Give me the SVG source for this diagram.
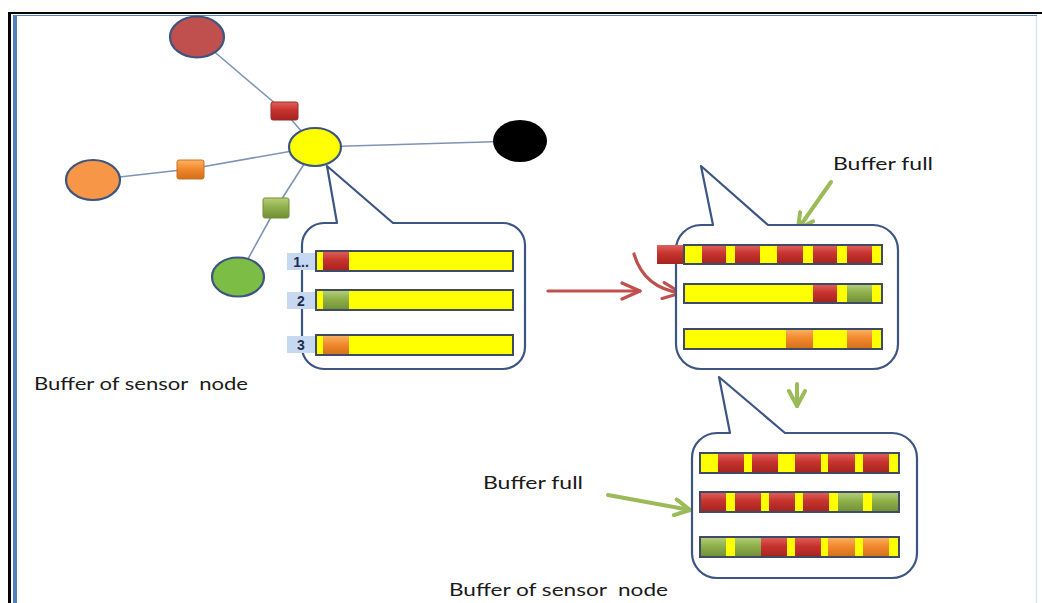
<svg xmlns="http://www.w3.org/2000/svg" width="1042" height="603" viewBox="0 0 1042 603">
<defs>
<style>
.txt{font-family:Lato,"Liberation Sans",sans-serif;font-size:17px;fill:#1a1a1a;white-space:pre}
.lbl{font-family:"Liberation Sans",sans-serif;font-size:14px;font-weight:bold;fill:#1f2d4d;text-anchor:middle}
.lblbox{fill:#c6d9f1}
.link{stroke:#7f93b5;stroke-width:1.6;fill:none}
.node{stroke:#3b5580;stroke-width:2.2}
.callout{fill:#fff;stroke:#3d5583;stroke-width:2.2;stroke-linejoin:round}
.bar{fill:#ffff00}
.barline{fill:none;stroke:#3e4a66;stroke-width:2}
.r{fill:url(#gRed)}
.g{fill:url(#gGreen)}
.o{fill:url(#gOrange)}
.redarr{stroke:#c0504d;stroke-width:3.2;fill:none;stroke-linecap:round}
.grnarr{stroke:#9bbb59;stroke-width:4;fill:none;stroke-linecap:round}
</style>
<linearGradient id="gRed" x1="0" y1="0" x2="0" y2="1">
<stop offset="0" stop-color="#e0625c"/><stop offset="0.45" stop-color="#c7332e"/><stop offset="1" stop-color="#a5231f"/>
</linearGradient>
<linearGradient id="gGreen" x1="0" y1="0" x2="0" y2="1">
<stop offset="0" stop-color="#b6d17a"/><stop offset="0.45" stop-color="#8fb04c"/><stop offset="1" stop-color="#6f8f35"/>
</linearGradient>
<linearGradient id="gOrange" x1="0" y1="0" x2="0" y2="1">
<stop offset="0" stop-color="#fab466"/><stop offset="0.45" stop-color="#f28a2e"/><stop offset="1" stop-color="#d26f19"/>
</linearGradient>
<marker id="mRed" viewBox="0 0 22 20" refX="20" refY="10" markerWidth="22" markerHeight="20" markerUnits="userSpaceOnUse" orient="auto">
<path d="M2,2 L20,10 L2,18" fill="none" stroke="#c0504d" stroke-width="3.2" stroke-linecap="round" stroke-linejoin="round"/>
</marker>
<marker id="mGreen" viewBox="0 0 20 20" refX="18" refY="10" markerWidth="20" markerHeight="20" markerUnits="userSpaceOnUse" orient="auto">
<path d="M3,2 L18,10 L3,18" fill="none" stroke="#9bbb59" stroke-width="4" stroke-linecap="round" stroke-linejoin="round"/>
</marker>
</defs>

<rect x="0" y="0" width="1042" height="603" fill="#fff"/>
<g id="frame">
<path d="M9,13 H1042" stroke="#000" stroke-width="2"/>
<path d="M9.5,12 V603" stroke="#000" stroke-width="3"/>
<rect x="13" y="15" width="4" height="588" fill="#4f81bd"/>
<path d="M13,15.5 H1037" stroke="#4f81bd" stroke-width="1"/>
<path d="M1036.5,16 V603" stroke="#dbe5f1" stroke-width="1.5"/>
</g>

<g id="connectors">
<polyline class="link" points="197,37 284,111 315,147"/>
<polyline class="link" points="93,180 190,169 315,147"/>
<line class="link" x1="315" y1="147" x2="520" y2="141"/>
<polyline class="link" points="315,147 276,208 238,277"/>
<line class="redarr" x1="548" y1="291" x2="640" y2="291" marker-end="url(#mRed)"/>
<path class="redarr" d="M634,254 Q644,288 681,293" marker-end="url(#mRed)"/>
<line class="grnarr" x1="831" y1="182" x2="798" y2="229" marker-end="url(#mGreen)"/>
<line class="grnarr" x1="797" y1="384" x2="797" y2="406" marker-end="url(#mGreen)"/>
<line class="grnarr" x1="608" y1="495" x2="690" y2="510" marker-end="url(#mGreen)"/>
</g>

<g id="node-red"><ellipse class="node" cx="197" cy="37" rx="27" ry="20.5" fill="#c0504d"/></g>
<g id="node-orange"><ellipse class="node" cx="93" cy="180" rx="27" ry="20" fill="#f79646"/></g>
<g id="node-green"><ellipse class="node" cx="238" cy="277" rx="26" ry="19.5" fill="#7cbd45"/></g>
<g id="node-black"><ellipse cx="520" cy="141" rx="27" ry="21" fill="#000"/></g>
<g id="packet-red"><rect x="271" y="102" width="27" height="18" rx="2" class="r" stroke="#9c2a26" stroke-width="1"/></g>
<g id="packet-orange"><rect x="177" y="160" width="27" height="19" rx="2" class="o" stroke="#c87020" stroke-width="1"/></g>
<g id="packet-green"><rect x="263" y="198" width="26" height="20" rx="2" class="g" stroke="#6f8f35" stroke-width="1"/></g>

<g id="callout-1">
<path class="callout" d="M324,223 L337,223 L327,166 L393,223 L503,223 A22,22 0 0 1 525,245 L525,347 A22,22 0 0 1 503,369 L324,369 A22,22 0 0 1 302,347 L302,245 A22,22 0 0 1 324,223 Z"/>
<rect class="bar" x="316" y="251" width="197" height="20"/>
<rect class="r" x="323" y="251" width="26" height="20"/>
<rect class="barline" x="316" y="251" width="197" height="20"/>
<rect class="bar" x="316" y="290" width="197" height="20"/>
<rect class="g" x="323" y="290" width="26" height="20"/>
<rect class="barline" x="316" y="290" width="197" height="20"/>
<rect class="bar" x="316" y="335" width="197" height="20"/>
<rect class="o" x="323" y="335" width="26" height="20"/>
<rect class="barline" x="316" y="335" width="197" height="20"/>
<rect class="lblbox" x="287" y="253" width="28" height="17"/>
<text class="lbl" x="301" y="267">1..</text>
<rect class="lblbox" x="287" y="292" width="28" height="17"/>
<text class="lbl" x="301" y="306">2</text>
<rect class="lblbox" x="287" y="336" width="28" height="17"/>
<text class="lbl" x="301" y="350">3</text>
</g>

<g id="node-yellow"><ellipse class="node" cx="315" cy="147" rx="26" ry="19" fill="#ffff00"/></g>

<g id="callout-2">
<path class="callout" d="M701,225 L713,225 L701,166 L768,225 L873,225 A25,25 0 0 1 898,250 L898,344 A25,25 0 0 1 873,369 L701,369 A25,25 0 0 1 676,344 L676,250 A25,25 0 0 1 701,225 Z"/>
<rect class="bar" x="684" y="245" width="198" height="19"/>
<rect class="r" x="657" y="245" width="27" height="19"/>
<rect class="r" x="702" y="245" width="24" height="19"/>
<rect class="r" x="735" y="245" width="25" height="19"/>
<rect class="r" x="777" y="245" width="26" height="19"/>
<rect class="r" x="813" y="245" width="24" height="19"/>
<rect class="r" x="847" y="245" width="25" height="19"/>
<rect class="barline" x="684" y="245" width="198" height="19"/>
<rect class="bar" x="684" y="284" width="198" height="19"/>
<rect class="r" x="813" y="284" width="24" height="19"/>
<rect class="g" x="847" y="284" width="25" height="19"/>
<rect class="barline" x="684" y="284" width="198" height="19"/>
<rect class="bar" x="684" y="329" width="198" height="20"/>
<rect class="o" x="786" y="329" width="27" height="20"/>
<rect class="o" x="847" y="329" width="25" height="20"/>
<rect class="barline" x="684" y="329" width="198" height="20"/>
</g>

<g id="callout-3">
<path class="callout" d="M717,433 L730,433 L719,377 L785,433 L892,433 A25,25 0 0 1 917,458 L917,553 A25,25 0 0 1 892,578 L717,578 A25,25 0 0 1 692,553 L692,458 A25,25 0 0 1 717,433 Z"/>
<rect class="bar" x="700" y="453" width="199" height="20"/>
<rect class="r" x="718" y="453" width="26" height="20"/>
<rect class="r" x="752" y="453" width="26" height="20"/>
<rect class="r" x="795" y="453" width="26" height="20"/>
<rect class="r" x="828" y="453" width="27" height="20"/>
<rect class="r" x="863" y="453" width="26" height="20"/>
<rect class="barline" x="700" y="453" width="199" height="20"/>
<rect class="bar" x="700" y="492" width="199" height="20"/>
<rect class="r" x="700" y="492" width="26" height="20"/>
<rect class="r" x="735" y="492" width="26" height="20"/>
<rect class="r" x="769" y="492" width="26" height="20"/>
<rect class="r" x="803" y="492" width="26" height="20"/>
<rect class="g" x="838" y="492" width="25" height="20"/>
<rect class="g" x="872" y="492" width="27" height="20"/>
<rect class="barline" x="700" y="492" width="199" height="20"/>
<rect class="bar" x="700" y="537" width="199" height="20"/>
<rect class="g" x="700" y="537" width="26" height="20"/>
<rect class="g" x="735" y="537" width="26" height="20"/>
<rect class="r" x="761" y="537" width="26" height="20"/>
<rect class="r" x="795" y="537" width="26" height="20"/>
<rect class="o" x="828" y="537" width="27" height="20"/>
<rect class="o" x="863" y="537" width="26" height="20"/>
<rect class="barline" x="700" y="537" width="199" height="20"/>
</g>

<g id="labels">
<text class="txt" x="34" y="390" textLength="214" lengthAdjust="spacingAndGlyphs">Buffer of sensor  node</text>
<text class="txt" x="833" y="170" textLength="100" lengthAdjust="spacingAndGlyphs">Buffer full</text>
<text class="txt" x="483" y="489" textLength="100" lengthAdjust="spacingAndGlyphs">Buffer full</text>
<text class="txt" x="449" y="596" textLength="219" lengthAdjust="spacingAndGlyphs">Buffer of sensor  node</text>
</g>
</svg>
